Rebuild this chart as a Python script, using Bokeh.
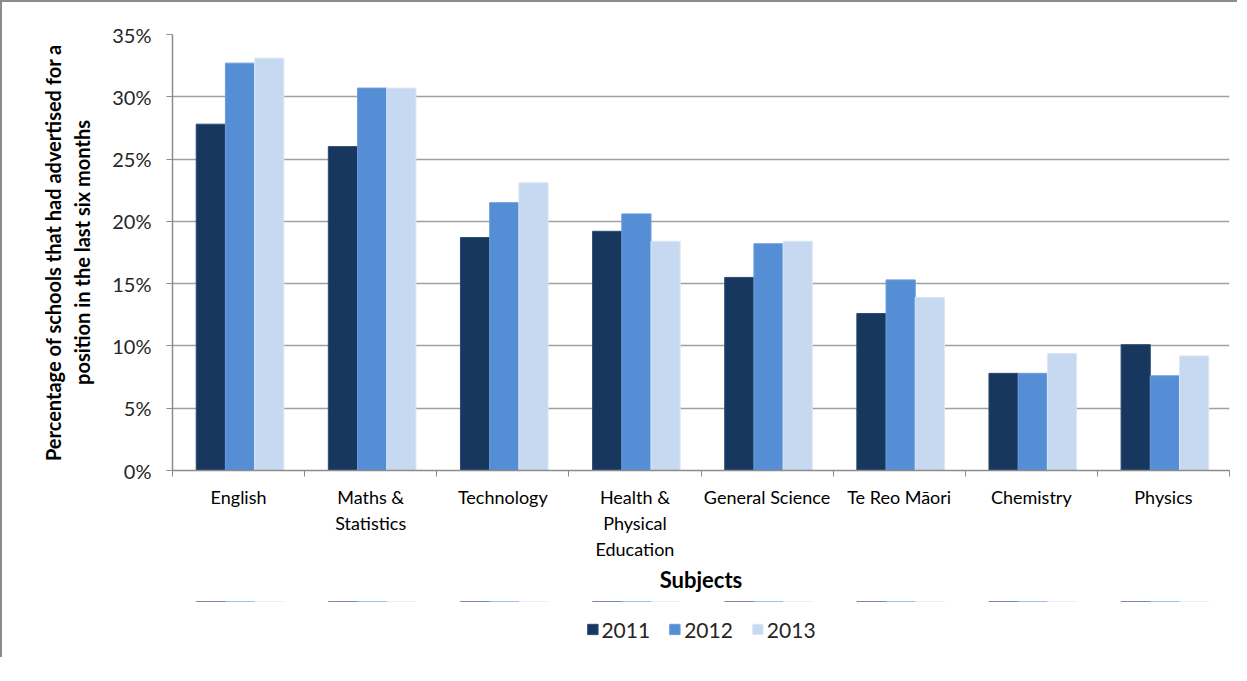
from bokeh.plotting import figure
from bokeh.layouts import column
from bokeh.models import Range1d, FixedTicker, Legend, LegendItem, ColumnDataSource, PrintfTickFormatter
from bokeh.embed import file_html
from bokeh.resources import INLINE

subjects = ["English", "Maths & Statistics", "Technology", "Health & Physical Education",
            "General Science", "Te Reo Māori", "Chemistry", "Physics"]
subject_labels = ["English", "Maths &\nStatistics", "Technology", "Health &\nPhysical\nEducation",
                  "General Science", "Te Reo Māori", "Chemistry", "Physics"]
years = ["2011", "2012", "2013"]
v2011 = [27.8, 26.0, 18.7, 19.2, 15.5, 12.6, 7.8, 10.1]
v2012 = [32.7, 30.7, 21.5, 20.6, 18.2, 15.3, 7.8, 7.6]
v2013 = [33.1, 30.7, 23.1, 18.4, 18.4, 13.9, 9.4, 9.2]
y_ticks = [0, 5, 10, 15, 20, 25, 30, 35]
colors = ["#17375E", "#558ED5", "#C6D9F1"]
edge_colors = ["#2c4a72", "#6a9ddb", "#dbe7f6"]

FONT = "Lato"
BORDER = "2px solid #8c8c8c"
n = len(subjects)
centers = [i + 0.5 for i in range(n)]
bw = 0.221
offsets = [-bw, 0.0, bw]

p = figure(width=1237, height=601, output_backend="svg", toolbar_location=None,
           x_range=Range1d(0, n), y_range=Range1d(0, 35),
           min_border_left=170, min_border_right=10, min_border_top=32, min_border_bottom=133)
p.background_fill_color = "white"
p.border_fill_color = "white"
p.outline_line_color = None
p.styles = {"border-left": BORDER, "border-top": BORDER}

sources = []
for vals, off, col, ec in zip([v2011, v2012, v2013], offsets, colors, edge_colors):
    src = ColumnDataSource(dict(x=[c + off + 0.011 for c in centers], top=vals))
    sources.append(src)
    p.vbar(x="x", top="top", width=bw, source=src, fill_color=col, line_color=ec, line_width=1)

# y axis
p.yaxis.ticker = FixedTicker(ticks=y_ticks)
p.yaxis.formatter = PrintfTickFormatter(format="%d%%")
p.yaxis.axis_line_color = "#8c8c8c"
p.yaxis.axis_line_width = 1.5
p.yaxis.major_tick_line_color = "#8c8c8c"
p.yaxis.major_tick_out = 6
p.yaxis.major_tick_in = 0
p.yaxis.minor_tick_line_color = None
p.yaxis.major_label_standoff = 15
p.yaxis.major_label_text_font = FONT
p.yaxis.major_label_text_font_size = "20px"
p.yaxis.major_label_text_color = "#262626"
p.yaxis.axis_label = "Percentage of schools that had advertised for a\nposition in the last six months"
p.yaxis.axis_label_text_font = FONT
p.yaxis.axis_label_text_font_size = "20px"
p.yaxis.axis_label_text_font_style = "bold"
p.yaxis.axis_label_text_color = "#000000"
p.yaxis.axis_label_standoff = 15

# x axis
p.xaxis.ticker = FixedTicker(ticks=centers, minor_ticks=list(range(n + 1)))
p.xaxis.major_label_overrides = {c: lab for c, lab in zip(centers, subject_labels)}
p.xaxis.axis_line_color = "#8c8c8c"
p.xaxis.axis_line_width = 1.5
p.xaxis.major_tick_line_color = None
p.xaxis.major_tick_out = 0
p.xaxis.minor_tick_line_color = "#8c8c8c"
p.xaxis.minor_tick_out = 6
p.xaxis.minor_tick_in = 0
p.xaxis.major_label_standoff = 9
p.xaxis.major_label_text_font = FONT
p.xaxis.major_label_text_font_size = "18px"
p.xaxis.major_label_text_color = "#000000"
p.xaxis.axis_label = "Subjects"
p.xaxis.axis_label_text_font = FONT
p.xaxis.axis_label_text_font_size = "22px"
p.xaxis.axis_label_text_font_style = "bold"
p.xaxis.axis_label_text_color = "#000000"
p.xaxis.axis_label_standoff = 3

# grid
p.xgrid.grid_line_color = None
p.ygrid.ticker = FixedTicker(ticks=y_ticks)
p.ygrid.grid_line_color = "#a0a0a0"
p.ygrid.grid_line_width = 1.5

# legend strip below the chart (same series, drawn out of view; only the legend shows)
lf = figure(width=1237, height=56, output_backend="svg", toolbar_location=None,
            x_range=Range1d(0, n), y_range=Range1d(-10, -5),
            x_axis_type=None, y_axis_type=None,
            min_border_left=169, min_border_right=0, min_border_top=0, min_border_bottom=0)
lf.background_fill_color = "white"
lf.border_fill_color = "white"
lf.outline_line_color = None
lf.grid.visible = False
lf.styles = {"border-left": BORDER}

legend_renderers = []
for src, col, ec in zip(sources, colors, edge_colors):
    r = lf.vbar(x="x", top="top", width=bw, source=src, fill_color=col, line_color=ec, line_width=1)
    legend_renderers.append(r)

legend = Legend(items=[LegendItem(label=y, renderers=[r]) for y, r in zip(years, legend_renderers)],
                orientation="horizontal", location="center")
legend.label_text_font = FONT
legend.label_text_font_size = "21px"
legend.label_text_color = "#262626"
legend.glyph_width = 13
legend.glyph_height = 13
legend.label_standoff = 3
legend.spacing = 18
legend.border_line_color = None
legend.background_fill_alpha = 0
legend.margin = 0
legend.padding = 0
lf.add_layout(legend, "center")

layout = column(p, lf, spacing=0)
open("out.html", "w").write(file_html(layout, INLINE))
